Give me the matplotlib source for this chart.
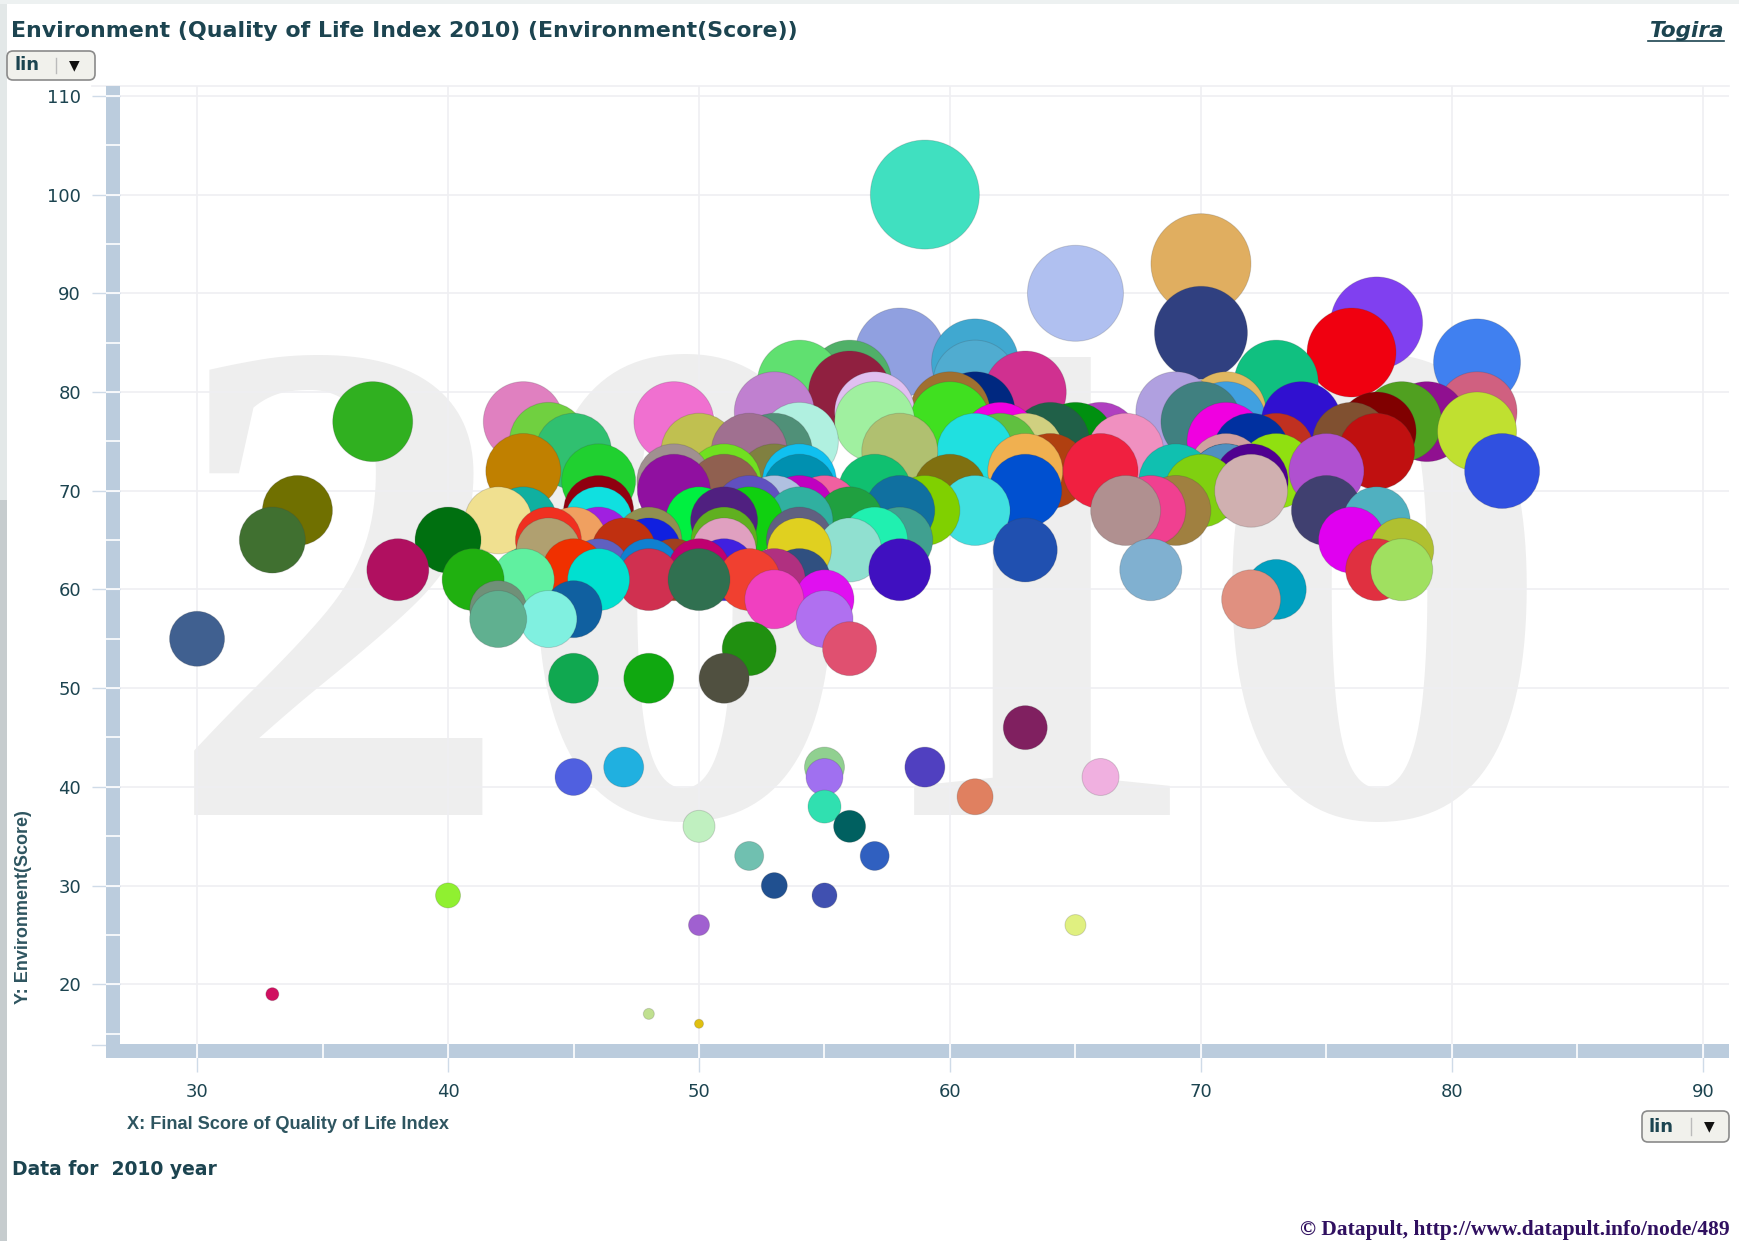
import matplotlib
matplotlib.use('Agg')
import matplotlib.pyplot as plt
from matplotlib.patches import Rectangle, FancyBboxPatch
from matplotlib.lines import Line2D

W, H = 1739, 1241

# one row per y level, biggest bubbles first (small ones sit on top)
x_vals = [59, 70, 65, 77, 70, 76,
          58, 61, 81, 61,
          56, 54, 73, 56, 63,
          81, 71, 69, 61, 60, 57, 53,
          79, 78, 71, 70, 74, 60, 57, 49, 43, 37,
          77, 81,
          66, 65, 64, 62, 71, 76, 54, 44,
          63, 62, 61, 58, 67, 73, 72, 77, 53, 50, 52, 45,
          82, 73, 75, 71, 64, 63, 66, 43,
          53, 54, 51, 49, 46, 69, 71, 71, 72,
          60, 57, 54, 51, 49, 70, 72, 63,
          61, 59, 58, 69, 68, 67, 75, 46, 55, 54, 53, 52, 34,
          56, 54, 50, 52, 51, 77, 46, 43, 42,
          33, 40, 46, 45, 44, 48, 51, 54, 58, 57, 76,
          78, 63, 56, 54, 51, 48, 47, 44,
          38, 46, 45, 49, 48, 51, 50, 58, 68, 77, 78,
          54, 53, 52, 48, 46, 43, 41, 50,
          73, 55, 53, 72, 45, 42, 55, 44, 42,
          30, 52, 56, 45, 48, 51,
          63, 55, 59, 47, 66, 45, 55, 61, 55, 56, 50, 57, 52,
          53, 40, 55, 50, 65, 33, 48, 50]
y_vals = [100, 93, 90, 87, 86, 84,
          84, 83, 83, 81,
          81, 81, 81, 80, 80,
          78, 78, 78, 78, 78, 78, 78,
          77, 77, 77, 77, 77, 77, 77, 77, 77, 77,
          76, 76,
          75, 75, 75, 75, 75, 75, 75, 75,
          74, 74, 74, 74, 74, 74, 74, 74, 74, 74, 74, 74,
          72, 72, 72, 72, 72, 72, 72, 72,
          71, 71, 71, 71, 71, 71, 71, 71, 71,
          70, 70, 70, 70, 70, 70, 70, 70,
          68, 68, 68, 68, 68, 68, 68, 68, 68, 68, 68, 68, 68,
          67, 67, 67, 67, 67, 67, 67, 67, 67,
          65, 65, 65, 65, 65, 65, 65, 65, 65, 65, 65,
          64, 64, 64, 64, 64, 64, 64, 64,
          62, 62, 62, 62, 62, 62, 62, 62, 62, 62, 62,
          61, 61, 61, 61, 61, 61, 61, 61,
          60, 59, 59, 59, 58, 58, 57, 57, 57,
          55, 54, 54, 51, 51, 51,
          46, 42, 42, 42, 41, 41, 41, 39, 38, 36, 36, 33, 33,
          30, 29, 29, 26, 26, 19, 17, 16]
bubble_colors = ['#40E0C0', '#E0AE60', '#B0C0F0', '#8040F0', '#304080', '#F00010',
                 '#90A0E0', '#40A8D0', '#4080F0', '#50ACD0',
                 '#50B068', '#60E070', '#10C080', '#902040', '#D03090',
                 '#D06080', '#E0B860', '#B0A0E0', '#002880', '#A07030', '#E0C0F0', '#C080D0',
                 '#901090', '#50A020', '#40A0E0', '#408080', '#3010D0', '#40E020', '#A0F0A0', '#F070D0', '#E080C0', '#30B020',
                 '#800000', '#C0E030',
                 '#B040C0', '#009010', '#206048', '#F000E0', '#F000E0', '#805030', '#B0F0E0', '#70D040',
                 '#D0D080', '#60C040', '#20E0E0', '#B0C070', '#F090C0', '#C03020', '#0030A0', '#C01010', '#509078', '#C0C050', '#A07090', '#30C070',
                 '#3050E0', '#90E010', '#B050D0', '#D0A0A0', '#B04010', '#F0B050', '#F02040', '#C08000',
                 '#808040', '#10C0F0', '#70E020', '#A09090', '#20D030', '#10C0B0', '#104070', '#5090C0', '#500090',
                 '#807010', '#10C070', '#0090B0', '#906050', '#9010A0', '#80D010', '#D0B0B0', '#0050D0',
                 '#40E0E0', '#80D000', '#1070A0', '#A08040', '#F04090', '#B09090', '#404070', '#900010', '#F060A0', '#C000C0', '#B0C0E0', '#6050C0', '#707000',
                 '#20A040', '#30B0A0', '#00F040', '#10D010', '#502080', '#50B0C0', '#10E0E0', '#10B0A0', '#F0E090',
                 '#407030', '#007010', '#A020E0', '#F0A060', '#F03020', '#909050', '#60B020', '#606080', '#40A090', '#20F0B0', '#E000F0',
                 '#B0C030', '#2050B0', '#90E0D0', '#E0D020', '#E0A0C0', '#1020E0', '#C03010', '#B0A070',
                 '#B01060', '#6060C0', '#F03000', '#A04020', '#1080D0', '#4020E0', '#C00070', '#4010C0', '#80B0D0', '#E03040', '#A0E060',
                 '#305080', '#B03080', '#F04030', '#D03050', '#00E0D0', '#60F0A0', '#20B010', '#307050',
                 '#00A0C0', '#E010F0', '#F040C0', '#E09080', '#1060A0', '#709078', '#B070F0', '#80F0E0', '#60B090',
                 '#406090', '#209010', '#E05070', '#10A850', '#10A810', '#505040',
                 '#802060', '#90D090', '#5040C0', '#20B0E0', '#F0B0E0', '#5060E0', '#A070F0', '#E08060', '#30E0B0', '#006060', '#C0F0C0', '#3060C0', '#70C0B0',
                 '#205090', '#90F030', '#4050B0', '#A060D0', '#E0F080', '#D01060', '#C0E090', '#E0C010']

diameter_by_y = {100: 109, 93: 100, 90: 96, 87: 92, 86: 93, 84: 89, 83: 87, 81: 84, 80: 82,
                 78: 80, 77: 80, 76: 79, 75: 78, 74: 76, 72: 75, 71: 74, 70: 73, 68: 70,
                 67: 67, 65: 66, 64: 64, 62: 62, 61: 62, 60: 60, 59: 59, 58: 57, 57: 57,
                 55: 55, 54: 54, 51: 50, 46: 44, 42: 40, 41: 37, 39: 36, 38: 33, 36: 32,
                 33: 29, 30: 26, 29: 25, 26: 21, 19: 13, 17: 11, 16: 9}

x_ticks = [30, 40, 50, 60, 70, 80, 90]
y_ticks = [20, 30, 40, 50, 60, 70, 80, 90, 100, 110]
x_minor = [30, 35, 40, 45, 50, 55, 60, 65, 70, 75, 80, 85, 90]
y_minor = [15, 20, 25, 30, 35, 40, 45, 50, 55, 60, 65, 70, 75, 80, 85, 90, 95, 100, 105, 110]

TEXT = '#1C4450'
BAR = '#BBCCDD'
STUB = '#CFDBE8'
GRID = '#EFEFF2'


def fx(px):
    return px / W


def fy(py):
    return 1 - py / H


def pt(px):
    return px * 0.72


assert len(x_vals) == len(y_vals) == len(bubble_colors)

fig = plt.figure(figsize=(W / 100, H / 100), dpi=100, facecolor='white')

# page background showing at the edges, darker towards the bottom on the left
fig.add_artist(Rectangle((0, fy(500)), fx(7), 500 / H, transform=fig.transFigure, fc='#E3E8E8', ec='none', zorder=-3))
fig.add_artist(Rectangle((0, 0), fx(7), fy(500), transform=fig.transFigure, fc='#C6CCCE', ec='none', zorder=-3))
fig.add_artist(Rectangle((0, fy(4)), 1, 4 / H, transform=fig.transFigure, fc='#EDF1F1', ec='none', zorder=-3))

# axis bars
fig.add_artist(Rectangle((fx(106), fy(1058)), fx(14), (1058 - 86) / H, transform=fig.transFigure,
                         fc=BAR, ec='none', zorder=-1))
fig.add_artist(Rectangle((fx(106), fy(1058)), fx(1729 - 106), 14 / H, transform=fig.transFigure,
                         fc=BAR, ec='none', zorder=-1))

ax = fig.add_axes([fx(120), fy(1044), fx(1729 - 120), (1044 - 86) / H])
ax.patch.set_alpha(0)
ax.set_xlim(26.93, 91.04)
ax.set_ylim(13.95, 111.0)
for s in ax.spines.values():
    s.set_visible(False)

ax.text(56.4, 37.1, '2010', family='Liberation Serif', fontweight='bold', fontsize=500,
        color='#EEEEEE', ha='center', va='baseline', zorder=0)

ax.set_xticks(x_ticks)
ax.set_yticks(y_ticks)
ax.set_xticks(x_minor, minor=True)
ax.set_yticks(y_minor, minor=True)
ax.xaxis.remove_overlapping_locs = False
ax.yaxis.remove_overlapping_locs = False
ax.grid(True, which='major', color=GRID, linewidth=1.2, zorder=1)
ax.set_axisbelow(True)
ax.tick_params(which='major', length=pt(28), width=1.0, color=STUB, labelsize=13,
               labelcolor=TEXT, pad=pt(11))
ax.tick_params(which='minor', length=pt(14), width=1.2, color='white')

ax.scatter(x_vals, y_vals, s=[pt(diameter_by_y[v]) ** 2 for v in y_vals], c=bubble_colors,
           edgecolors=(0.25, 0.25, 0.25, 0.2), linewidths=0.7, zorder=3, clip_on=False)

# top edge of the plot and bottom stub on the y axis
fig.add_artist(Line2D([fx(92), fx(1729)], [fy(86), fy(86)], color=GRID, lw=1.2, zorder=-2))
fig.add_artist(Line2D([fx(92), fx(106)], [fy(1045), fy(1045)], color=STUB, lw=1.0, zorder=-2))

fig.text(fx(11), fy(37), 'Environment (Quality of Life Index 2010) (Environment(Score))',
         fontsize=15.9, fontweight='bold', color=TEXT, va='baseline')
fig.text(fx(1724), fy(37), 'Togira', fontsize=15.5, fontweight='bold', style='italic',
         color=TEXT, ha='right', va='baseline')
fig.add_artist(Line2D([fx(1648), fx(1724)], [fy(41), fy(41)], color=TEXT, lw=1.2))
fig.text(fx(127), fy(1129), 'X: Final Score of Quality of Life Index', family='Liberation Sans',
         fontsize=13.1, fontweight='bold', color='#2E5560', va='baseline')
fig.text(fx(32), fy(1004), 'Y: Environment(Score)', family='Liberation Sans', fontsize=13,
         fontweight='bold', color='#2E5560', rotation=90, ha='right', va='bottom')
fig.text(fx(12), fy(1175), 'Data for  2010 year', fontsize=13.5, fontweight='bold',
         color=TEXT, va='baseline')
fig.text(fx(1730), fy(1235), '\u00a9 Datapult, http://www.datapult.info/node/489',
         family='Liberation Serif', fontsize=15.5, fontweight='bold', color='#301060',
         ha='right', va='baseline')


def lin_button(x0, y0, x1, y1):
    fig.add_artist(FancyBboxPatch((x0 + 4, H - y1 + 4), x1 - x0 - 8, y1 - y0 - 8,
                                  boxstyle='round,pad=4,rounding_size=6', transform=None,
                                  fc='#F1F1EC', ec='#8A8A8A', lw=1.2))
    fig.text(fx(x0 + 7), fy(y1 - 10), 'lin', fontsize=13, fontweight='bold', color=TEXT, va='baseline')
    fig.add_artist(Line2D([fx(x0 + 49), fx(x0 + 49)], [fy(y0 + 7), fy(y1 - 7)], color='#BBBBBB', lw=1.0))
    fig.text(fx(x0 + 67), fy((y0 + y1) / 2), '\u25bc', fontsize=10, color='#111111', ha='center', va='center')


lin_button(7, 51, 95, 80)
lin_button(1642, 1111, 1729, 1142)

fig.savefig('out.png', dpi=100, facecolor='white')
